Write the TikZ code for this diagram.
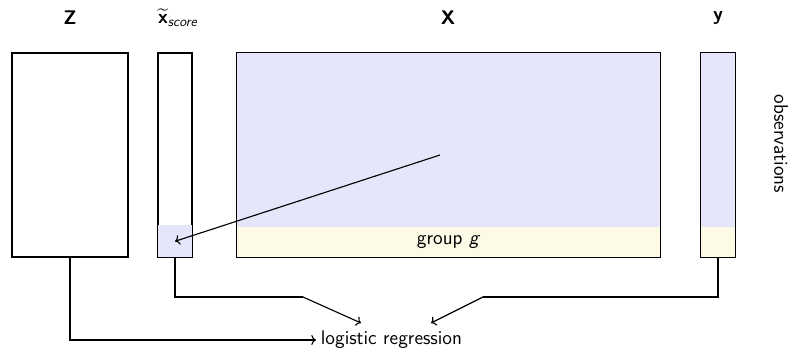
\documentclass[tikz,border=0pt]{standalone}
\usepackage{amsmath}
\usetikzlibrary{arrows.meta,positioning,calc}
\definecolor{obs}{HTML}{E6E6FA}
\definecolor{grp}{HTML}{FDFAE6}
\tikzset{
  mat/.style={draw, line width=0.8pt, minimum height=5.1cm, inner sep=0pt},
  head/.style={font=\fontsize{14}{17}\selectfont\sffamily\bfseries},
  txt/.style={font=\fontsize{14}{17}\selectfont\sffamily},
  link/.style={line width=0.8pt},
  flow/.style={->, line width=0.8pt},
}
\begin{document}
\begin{tikzpicture}[x=0.025cm, y=-0.025cm]
\useasboundingbox (0,0) rectangle (792,348);

% the four matrices, drawn as empty boxes first
\node[mat, minimum width=2.9cm] (Z) at (70,155) {};
\node[mat, minimum width=0.85cm] (xs) at (175,155) {};
\node[mat, minimum width=10.575cm] (X) at (448.5,155) {};
\node[mat, minimum width=0.85cm] (y) at (718,155) {};
\coordinate (gtop) at (0,227);
\coordinate (stop) at (0,225);

% fills: observations in blue, group g in yellow
\fill[obs] (X.north west) rectangle (X.east |- gtop);
\fill[grp] (X.west |- gtop) rectangle (X.south east);
\fill[obs] (y.north west) rectangle (y.east |- gtop);
\fill[grp] (y.west |- gtop) rectangle (y.south east);
\fill[obs] (xs.west |- stop) rectangle (xs.south east);
\draw[line width=0.8pt] (Z.north west) rectangle (Z.south east);
\draw[line width=0.8pt] (xs.north west) rectangle (xs.south east);
\draw[line width=0.8pt] (X.north west) rectangle (X.south east);
\draw[line width=0.8pt] (y.north west) rectangle (y.south east);

% column headers
\node[head] (lZ) at (70,18) {Z};
\node[txt] (lxs) at (178,18) {$\widetilde{\textsf{\textbf{x}}}_{\textsf{\textit{score}}}$};
\node[head] (lX) at (448,18) {X};
\node[head] (ly) at (718,18) {y};
\node[txt, rotate=-90] (lobs) at (781,144) {observations};
\node[txt] (lg) at ($(X.west |- gtop)!0.5!(X.south east)$) {group \textit{g}};

% score taken from the group rows of X
\coordinate (sc) at (440,155);
\coordinate (xsg) at ($(xs.west |- stop)!0.5!(xs.south east)$);
\draw[flow] (sc) -- (xsg);

% everything goes into the regression
\node[txt, anchor=west] (lr) at (316,340) {logistic regression};
\coordinate (jl) at (303,297);
\coordinate (jr) at (483,297);
\draw[link] (xs.south) |- (jl);
\draw[flow] (jl) -- (361,323);
\draw[link] (y.south) |- (jr);
\draw[flow] (jr) -- (431,323);
\draw[flow] (Z.south) |- (lr.west);

\end{tikzpicture}
\end{document}
